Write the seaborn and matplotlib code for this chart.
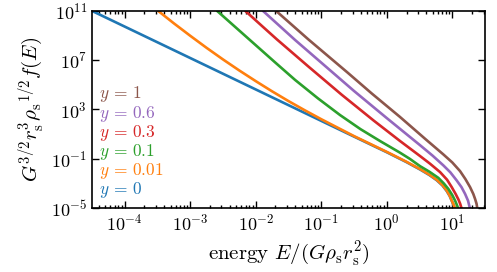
import numpy as np
import pandas as pd
import matplotlib
matplotlib.use('Agg')
import matplotlib.pyplot as plt
from matplotlib.ticker import LogLocator, NullLocator
import seaborn as sns

# log10 of energy and log10 of distribution function
logE_y0 = [-4.5, -3.5, -2.5, -1.5, -0.5, 0.0, 0.3, 0.508, 0.65, 0.762, 0.85, 0.915, 0.96, 0.991, 1.02, 1.042, 1.055]
logf_y0 = [11.0, 8.45, 5.9, 3.35, 0.8, -0.47, -1.27, -1.87, -2.32, -2.74, -3.17, -3.62, -4.02, -4.41, -4.74, -5.09, -5.6]

logE_y001 = [-3.49, -3.25, -3.0, -2.75, -2.5, -2.25, -2.0, -1.75, -1.5, -1.25, -1.0, -0.5, 0.0, 0.3, 0.508, 0.65, 0.762, 0.85, 0.915, 0.96, 0.991, 1.02, 1.042, 1.055]
logf_y001 = [11.0, 9.99, 8.98, 8.0, 7.06, 6.16, 5.3, 4.47, 3.68, 2.93, 2.21, 0.84, -0.44, -1.24, -1.84, -2.29, -2.71, -3.14, -3.59, -4.0, -4.39, -4.72, -5.07, -5.6]

logE_y01 = [-2.59, -2.09, -1.7, -1.4, -1.05, -0.714, -0.4, -0.1, 0.2, 0.35, 0.508, 0.65, 0.787, 0.87, 0.94, 1.0, 1.042, 1.07, 1.093, 1.105]
logf_y01 = [11.0, 8.64, 6.8, 5.4, 3.9, 2.55, 1.4, 0.43, -0.5, -1.0, -1.6, -2.05, -2.55, -3.0, -3.45, -3.95, -4.39, -4.75, -5.07, -5.6]

logE_y03 = [-2.16, -1.9, -1.68, -1.2, -0.689, -0.2, 0.2, 0.508, 0.66, 0.813, 0.92, 0.991, 1.05, 1.093, 1.12, 1.144, 1.155]
logf_y03 = [11.0, 9.75, 8.7, 6.5, 4.2, 2.1, 0.45, -0.78, -1.4, -2.08, -2.7, -3.3, -3.85, -4.3, -4.65, -5.07, -5.6]

logE_y06 = [-1.89, -1.4, -1.0, -0.5, 0.0, 0.508, 0.7, 0.864, 0.97, 1.067, 1.14, 1.195, 1.24, 1.271, 1.28]
logf_y06 = [11.0, 8.64, 6.8, 4.5, 2.3, 0.1, -0.75, -1.54, -2.1, -2.76, -3.3, -3.85, -4.4, -5.07, -5.6]

logE_y1 = [-1.69, -1.2, -0.6, -0.23, 0.2, 0.6, 0.864, 1.0, 1.118, 1.2, 1.271, 1.32, 1.347, 1.37, 1.383, 1.39]
logf_y1 = [11.0, 8.7, 6.0, 4.3, 2.4, 0.55, -0.65, -1.3, -2.0, -2.65, -3.3, -3.85, -4.25, -4.65, -5.07, -5.6]

labels = ['0', '0.01', '0.1', '0.3', '0.6', '1']
colors = ['#1f77b4', '#ff7f0e', '#2ca02c', '#d62728', '#9467bd', '#8c564b']
curves = [(logE_y0, logf_y0), (logE_y001, logf_y001), (logE_y01, logf_y01),
          (logE_y03, logf_y03), (logE_y06, logf_y06), (logE_y1, logf_y1)]

rows = []
for lab, (le, lf) in zip(labels, curves):
    for a, b in zip(le, lf):
        rows.append({'E': 10**a, 'f': 10**b, 'y': lab})
df = pd.DataFrame(rows)

sns.set_style('ticks')
plt.rcParams['font.family'] = 'serif'
plt.rcParams['font.serif'] = ['cmr10', 'DejaVu Serif']
plt.rcParams['mathtext.fontset'] = 'cm'
plt.rcParams['axes.formatter.use_mathtext'] = True
plt.rcParams['axes.unicode_minus'] = False
for k in ['text.color', 'axes.labelcolor', 'xtick.color', 'ytick.color', 'axes.edgecolor']:
    plt.rcParams[k] = 'black'

fig = plt.figure(figsize=(4.97, 2.72), dpi=100)
ax = fig.add_axes([0.185, 0.235, 0.791, 0.725])

sns.lineplot(data=df, x='E', y='f', hue='y', hue_order=labels, palette=colors,
             sort=False, estimator=None, legend=False, linewidth=1.9, ax=ax)

ax.set_xscale('log')
ax.set_yscale('log')
ax.set_xlim(10**-4.5, 10**1.5)
ax.set_ylim(1e-5, 1e11)
ax.set_yticks([1e-5, 1e-1, 1e3, 1e7, 1e11])
ax.yaxis.set_minor_locator(NullLocator())
ax.xaxis.set_major_locator(LogLocator(base=10, numticks=30))
ax.xaxis.set_minor_locator(LogLocator(base=10, subs=np.arange(2, 10), numticks=30))

ax.tick_params(which='both', direction='in', top=True, right=True, labelsize=13, width=1.0)
ax.tick_params(which='major', length=5)
ax.tick_params(which='minor', length=2.5)
for s in ax.spines.values():
    s.set_linewidth(1.2)

ax.set_xlabel(r'energy $E/(G\rho_\mathrm{s} r_\mathrm{s}^2)$', fontsize=15, labelpad=4)
ax.set_ylabel(r'$G^{3/2} r_\mathrm{s}^3 {\rho_\mathrm{s}}^{1/2} f(E)$', fontsize=15, labelpad=3)

ypos = [0.091, 0.188, 0.285, 0.382, 0.479, 0.578]
for lab, c, yp in zip(labels, colors, ypos):
    ax.text(0.019, yp, r'$y\,=\,%s$' % lab, color=c, fontsize=12.5,
            transform=ax.transAxes, va='center', ha='left')

plt.savefig('out.png', dpi=100)
